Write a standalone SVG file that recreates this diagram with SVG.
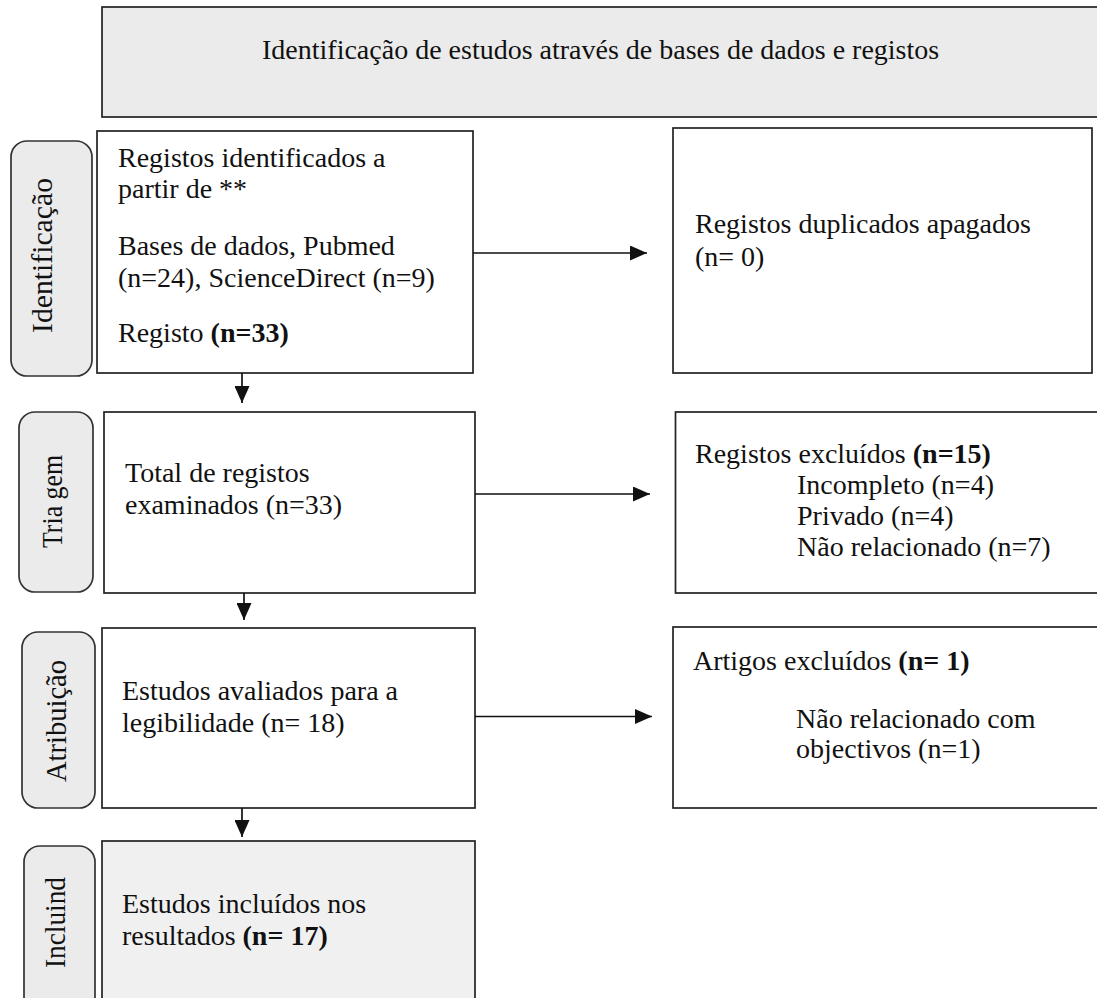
<svg xmlns="http://www.w3.org/2000/svg" width="1097" height="998" viewBox="0 0 1097 998">
<style>
  .box { fill: #ffffff; stroke: #222222; stroke-width: 1.7; }
  .gray { fill: #ebebeb; stroke: #222222; stroke-width: 1.7; }
  .gray2 { fill: #f0f0f0; stroke: #222222; stroke-width: 1.7; }
  .side { fill: #ebebeb; stroke: #333333; stroke-width: 1.7; }
  .t { font-family: "Liberation Serif", "Times New Roman", serif; font-size: 28px; fill: #111111; }
  .st { font-family: "Liberation Serif", "Times New Roman", serif; font-size: 30px; fill: #111111; }
  .b { font-weight: bold; }
  .conn { stroke: #111111; stroke-width: 1.7; fill: none; }
</style>
<defs>
  <marker id="ah" markerUnits="userSpaceOnUse" markerWidth="17" markerHeight="15" viewBox="0 0 17 15" refX="17" refY="7.5" orient="auto">
    <path d="M0,0 L17,7.5 L0,15 Z" fill="#111111"/>
  </marker>
</defs>

<g id="header">
  <rect class="gray" x="102" y="7" width="1010" height="110"/>
  <text class="t" x="262" y="59">Identificação de estudos através de bases de dados e registos</text>
</g>

<g id="label-identificacao">
  <rect class="side" x="11" y="141" width="81" height="235" rx="16" ry="16"/>
  <text class="st" transform="translate(52,255.5) rotate(-90)" text-anchor="middle" textLength="155" lengthAdjust="spacingAndGlyphs">Identificação</text>
</g>
<g id="label-triagem">
  <rect class="side" x="19" y="412" width="74" height="180" rx="16" ry="16"/>
  <text class="st" transform="translate(62,501.5) rotate(-90)" text-anchor="middle" textLength="93" lengthAdjust="spacingAndGlyphs">Tria gem</text>
</g>
<g id="label-atribuicao">
  <rect class="side" x="22" y="632" width="73" height="176" rx="16" ry="16"/>
  <text class="st" transform="translate(66,721) rotate(-90)" text-anchor="middle" textLength="122" lengthAdjust="spacingAndGlyphs">Atribuição</text>
</g>
<g id="label-incluind">
  <rect class="side" x="24" y="846" width="71" height="170" rx="16" ry="16"/>
  <text class="st" transform="translate(65,922.5) rotate(-90)" text-anchor="middle" textLength="91" lengthAdjust="spacingAndGlyphs">Incluind</text>
</g>

<g id="box-registos">
  <rect class="box" x="97" y="131" width="376" height="242"/>
  <text class="t">
    <tspan x="118" y="167">Registos identificados a</tspan>
    <tspan x="118" y="198">partir de **</tspan>
    <tspan x="118" y="255">Bases de dados, Pubmed</tspan>
    <tspan x="118" y="287">(n=24), ScienceDirect (n=9)</tspan>
    <tspan x="118" y="342">Registo <tspan class="b">(n=33)</tspan></tspan>
  </text>
</g>

<g id="box-duplicados">
  <rect class="box" x="673" y="128" width="419" height="245"/>
  <text class="t">
    <tspan x="695" y="233">Registos duplicados apagados</tspan>
    <tspan x="695" y="266">(n= 0)</tspan>
  </text>
</g>

<g id="box-examinados">
  <rect class="box" x="104" y="412" width="371" height="181"/>
  <text class="t">
    <tspan x="125" y="482">Total de registos</tspan>
    <tspan x="125" y="514">examinados (n=33)</tspan>
  </text>
</g>

<g id="box-excluidos">
  <rect class="box" x="675.5" y="412" width="440" height="181"/>
  <text class="t">
    <tspan x="695" y="463">Registos excluídos <tspan class="b">(n=15)</tspan></tspan>
    <tspan x="797" y="494">Incompleto (n=4)</tspan>
    <tspan x="797" y="525">Privado (n=4)</tspan>
    <tspan x="797" y="556">Não relacionado (n=7)</tspan>
  </text>
</g>

<g id="box-avaliados">
  <rect class="box" x="102" y="628" width="373" height="180"/>
  <text class="t">
    <tspan x="122" y="700">Estudos avaliados para a</tspan>
    <tspan x="122" y="732">legibilidade (n= 18)</tspan>
  </text>
</g>

<g id="box-artigos">
  <rect class="box" x="673" y="627" width="440" height="181"/>
  <text class="t">
    <tspan x="693" y="670">Artigos excluídos <tspan class="b">(n= 1)</tspan></tspan>
    <tspan x="796" y="728">Não relacionado com</tspan>
    <tspan x="796" y="758">objectivos (n=1)</tspan>
  </text>
</g>

<g id="box-incluidos">
  <rect class="gray2" x="102" y="841" width="373" height="175"/>
  <text class="t">
    <tspan x="122" y="913">Estudos incluídos nos</tspan>
    <tspan x="122" y="945">resultados <tspan class="b">(n= 17)</tspan></tspan>
  </text>
</g>

<g id="connectors">
  <line class="conn" x1="473" y1="253" x2="647" y2="253" marker-end="url(#ah)"/>
  <line class="conn" x1="475" y1="494" x2="650" y2="494" marker-end="url(#ah)"/>
  <line class="conn" x1="475" y1="716.5" x2="652" y2="716.5" marker-end="url(#ah)"/>
  <line class="conn" x1="242" y1="373" x2="242" y2="403" marker-end="url(#ah)"/>
  <line class="conn" x1="244" y1="593" x2="244" y2="620" marker-end="url(#ah)"/>
  <line class="conn" x1="242" y1="808" x2="242" y2="837" marker-end="url(#ah)"/>
</g>
</svg>
